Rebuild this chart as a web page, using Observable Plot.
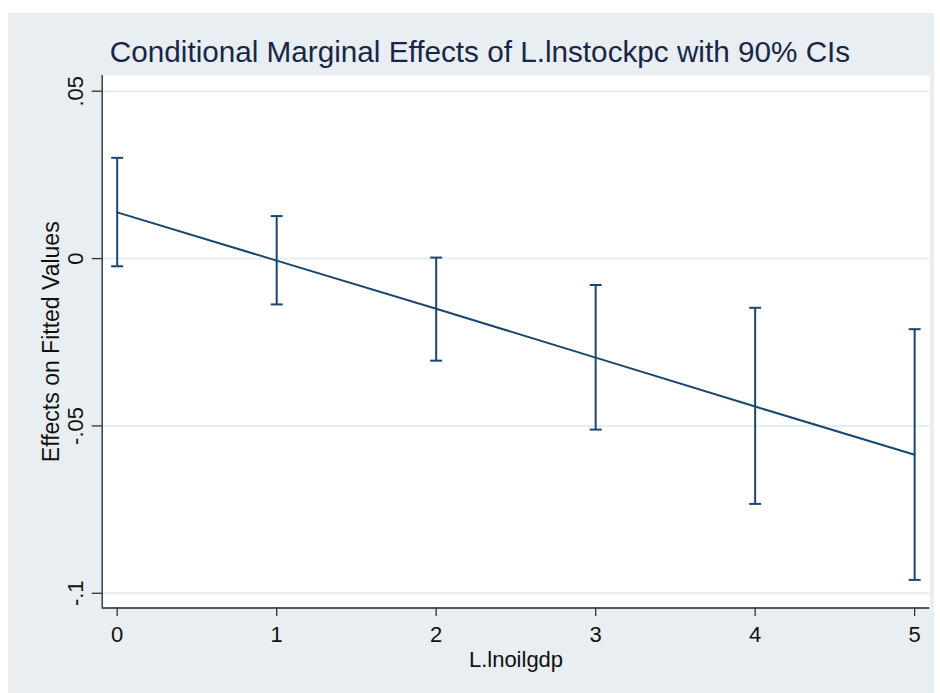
<!DOCTYPE html>
<html>
<head>
<meta charset="utf-8">
<script src="https://cdn.jsdelivr.net/npm/d3@7"></script>
<script src="https://cdn.jsdelivr.net/npm/@observablehq/plot@0.6"></script>
<style>
  html, body { margin: 0; padding: 0; background: #ffffff; }
  #wrap { position: relative; width: 940px; height: 693px; overflow: hidden; font-family: "Liberation Sans", Arial, Helvetica, sans-serif; }
  #bg { position: absolute; left: 8px; top: 13px; width: 926px; height: 680px; background: #e8eef1; }
  #title { position: absolute; left: 0; top: 33px; width: 960px; text-align: center; font-size: 29.7px; color: #1a2648; line-height: 38px; white-space: nowrap; }
  #chart { position: absolute; left: 0; top: 0; }
</style>
</head>
<body>
<div id="wrap">
  <div id="bg"></div>
  <div id="title">Conditional Marginal Effects of L.lnstockpc with 90% CIs</div>
  <div id="chart"></div>
</div>
<script>
// Data
const xValues = [0, 1, 2, 3, 4, 5];
const estimates = [0.0138, -0.0006, -0.0150, -0.0296, -0.0442, -0.0586];
const upperCI = [0.0301, 0.0127, 0.0003, -0.0079, -0.0147, -0.0211];
const lowerCI = [-0.0023, -0.0137, -0.0305, -0.0511, -0.0733, -0.0960];

const xTicks = [0, 1, 2, 3, 4, 5];
const xTickLabels = ["0", "1", "2", "3", "4", "5"];
const yTicks = [0.05, 0, -0.05, -0.1];
const yTickLabels = [".05", "0", "-.05", "-.1"];

const xLabel = "L.lnoilgdp";
const yLabel = "Effects on Fitted Values";

const rows = xValues.map((x, i) => ({x, est: estimates[i], hi: upperCI[i], lo: lowerCI[i]}));
const caps = rows.flatMap((d) => [{x: d.x, y: d.hi}, {x: d.x, y: d.lo}]);
const xTickRows = xTicks.map((v, i) => ({v, label: xTickLabels[i]}));
const yTickRows = yTicks.map((v, i) => ({v, label: yTickLabels[i]}));

const xDomain = [-0.094, 5.095];
const yDomain = [-0.1044, 0.0547];
const navy = "#1a476f";
const font = "\"Liberation Sans\", Arial, Helvetica, sans-serif";

// horizontal cap symbol for error bars
const capSymbol = {
  draw(context) {
    context.moveTo(-6, 0);
    context.lineTo(6, 0);
  }
};

const chart = Plot.plot({
  width: 940,
  height: 693,
  marginLeft: 101.7,
  marginRight: 10.7,
  marginTop: 75,
  marginBottom: 85.5,
  style: {background: "transparent", fontFamily: font, overflow: "visible"},
  x: {domain: xDomain, axis: null},
  y: {domain: yDomain, axis: null},
  marks: [
    Plot.frame({fill: "white", stroke: null}),
    Plot.gridY(yTicks, {stroke: "#e6eef0", strokeOpacity: 1, strokeWidth: 2}),
    Plot.ruleX([xDomain[0]], {stroke: "#222", strokeWidth: 1.3}),
    Plot.ruleY([yDomain[0]], {stroke: "#222", strokeWidth: 1.3}),
    Plot.axisY(yTicks, {tickSize: 10, tickFormat: () => "", stroke: "#333", strokeWidth: 1.3, label: null}),
    Plot.axisX(xTicks, {tickSize: 8.5, tickFormat: () => "", stroke: "#333", strokeWidth: 1.3, label: null}),
    Plot.text(yTickRows, {y: "v", text: "label", frameAnchor: "left", rotate: -90, textAnchor: "middle", lineAnchor: "bottom", dx: -19, fontSize: 22, fill: "#111"}),
    Plot.text(xTickRows, {x: "v", text: "label", frameAnchor: "bottom", textAnchor: "middle", lineAnchor: "bottom", dy: 33.5, fontSize: 22, fill: "#111"}),
    Plot.text([xLabel], {frameAnchor: "bottom", textAnchor: "middle", lineAnchor: "bottom", dy: 58.5, fontSize: 22, fill: "#111"}),
    Plot.text([yLabel], {frameAnchor: "left", rotate: -90, textAnchor: "middle", lineAnchor: "bottom", dx: -43.5, fontSize: 23, fill: "#111"}),
    Plot.ruleX(rows, {x: "x", y1: "lo", y2: "hi", stroke: navy, strokeWidth: 2}),
    Plot.dot(caps, {x: "x", y: "y", symbol: capSymbol, r: 6, stroke: navy, strokeWidth: 2, fill: "none"}),
    Plot.line(rows, {x: "x", y: "est", stroke: navy, strokeWidth: 2})
  ]
});
document.getElementById("chart").appendChild(chart);
</script>
</body>
</html>
